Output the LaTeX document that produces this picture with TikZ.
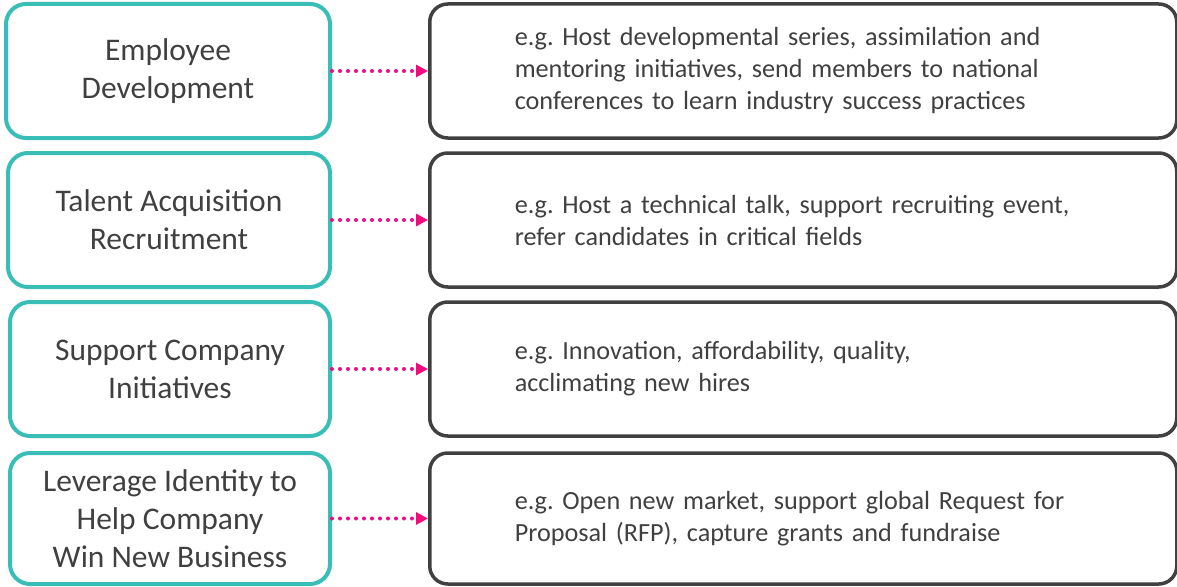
\documentclass[tikz,border=0pt]{standalone}
\usepackage{fontspec}
\setmainfont{Carlito}
\usetikzlibrary{arrows.meta}

\begin{document}
\frenchspacing
\begin{tikzpicture}[x=1pt, y=-1pt]

% Define colors for the boxes and links
\definecolor{tealline}{RGB}{56,190,183}
\definecolor{darkline}{RGB}{64,64,64}
\definecolor{pinklink}{RGB}{245,10,125}
\definecolor{textgray}{RGB}{64,64,64}

\tikzset{
  areabox/.style={draw=tealline, line width=4pt, rounded corners=20pt,
    minimum height=134pt, align=center, text=textgray,
    font=\fontsize{31.5}{38}\selectfont, anchor=east, inner sep=0pt},
  examplebox/.style={draw=darkline, line width=3.5pt, rounded corners=18pt,
    minimum height=134pt, text width=577pt, inner xsep=85pt, align=left,
    text=textgray, font=\fontsize{26.2}{32}\selectfont, anchor=west},
  link/.style={draw=pinklink, line width=4pt, line cap=round,
    dash pattern=on 0pt off 8pt,
    -{Triangle[length=12pt,width=12pt,fill=pinklink,line cap=butt]}}
}

\useasboundingbox (0,0) rectangle (1177,586);

% Areas on the left
\node[areabox, minimum width=324pt] (emp) at (332,71) {Employee\\Development};
\node[areabox, minimum width=322pt] (tal) at (332,220) {Talent Acquisition\\Recruitment};
\node[areabox, minimum width=320pt] (sup) at (332,369) {Support Company\\Initiatives};
\node[areabox, minimum width=320pt, minimum height=131pt] (lev) at (332,518.5)
  {Leverage Identity to\\Help Company\\Win New Business};

% Examples on the right
\node[examplebox] (empex) at (428,71)
  {e.g. Host developmental series, assimilation and\\mentoring initiatives, send members to national\\conferences to learn industry success practices};
\node[examplebox] (talex) at (428,220)
  {e.g. Host a technical talk, support recruiting event,\\refer candidates in critical fields};
\node[examplebox] (supex) at (428,369)
  {e.g. Innovation, affordability, quality,\\acclimating new hires};
\node[examplebox, minimum height=131pt] (levex) at (428,518.5)
  {e.g. Open new market, support global Request for\\Proposal (RFP), capture grants and fundraise};

% Dotted links
\draw[link] (emp.east) -- (empex.west);
\draw[link] (tal.east) -- (talex.west);
\draw[link] (sup.east) -- (supex.west);
\draw[link] (lev.east) -- (levex.west);

\end{tikzpicture}
\end{document}
